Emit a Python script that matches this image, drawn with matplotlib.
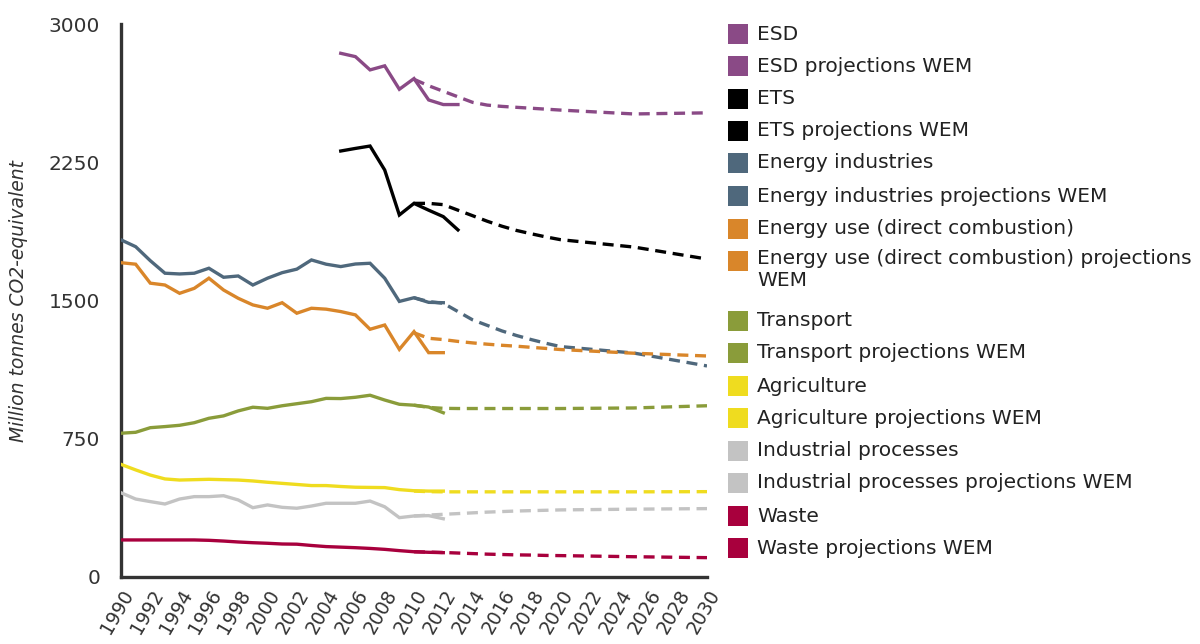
import matplotlib
matplotlib.use("Agg")
import matplotlib.pyplot as plt
from matplotlib.patches import Rectangle

plt.rcParams['font.family'] = ['DejaVu Sans']

years = list(range(1990, 2013))
years_esd = list(range(2005, 2014))
proj_years = list(range(2010, 2021)) + [2025, 2030]

# Historic emissions (Mt CO2-eq)
esd = [2841, 2823, 2751, 2773, 2646, 2704, 2588, 2563, 2563]
ets = [2311, 2325, 2338, 2208, 1964, 2027, 1990, 1955, 1883]
energy_industries = [1829, 1792, 1716, 1648, 1644, 1648, 1675, 1626, 1633, 1584,
                     1621, 1651, 1670, 1720, 1697, 1684, 1698, 1702, 1621, 1495,
                     1515, 1490, 1488]
energy_use = [1705, 1697, 1594, 1584, 1539, 1566, 1621, 1557, 1512, 1476,
              1458, 1488, 1431, 1458, 1453, 1440, 1422, 1344, 1367, 1235,
              1331, 1217, 1217]
transport = [780, 785, 810, 816, 823, 837, 861, 874, 901, 921,
             915, 929, 940, 951, 969, 968, 975, 986, 960, 937,
             932, 922, 891]
agriculture = [611, 581, 553, 532, 526, 528, 530, 528, 526, 521,
               514, 508, 502, 496, 496, 491, 487, 486, 485, 474,
               468, 466, 466]
industrial = [457, 423, 409, 396, 423, 436, 436, 441, 418, 376,
              391, 378, 373, 385, 400, 400, 400, 412, 381, 322,
              331, 333, 316]
waste = [201, 201, 201, 201, 201, 201, 199, 195, 190, 186,
         183, 179, 178, 171, 165, 162, 159, 155, 150, 143,
         137, 134, 132]

# WEM projections
esd_proj = [2700, 2665, 2635, 2605, 2575, 2560, 2553, 2548, 2543, 2538, 2533, 2512, 2518]
ets_proj = [2027, 2027, 2020, 1990, 1960, 1930, 1903, 1880, 1862, 1845, 1830, 1790, 1725]
energy_industries_proj = [1515, 1494, 1485, 1440, 1395, 1365, 1335, 1310, 1288, 1268, 1250, 1215, 1145]
energy_use_proj = [1325, 1295, 1288, 1278, 1270, 1263, 1257, 1252, 1246, 1240, 1234, 1214, 1199]
transport_proj = [932, 920, 915, 914, 914, 914, 914, 914, 914, 914, 914, 917, 929]
agriculture_proj = [466, 463, 462, 462, 462, 462, 462, 462, 462, 462, 462, 462, 463]
industrial_proj = [331, 336, 340, 344, 348, 352, 355, 358, 360, 362, 364, 368, 371]
waste_proj = [137, 135, 133, 130, 127, 124, 122, 120, 119, 117, 116, 110, 105]

colors = {
    'esd': '#8a4a86', 'ets': '#000000', 'ei': '#4f687c', 'eu': '#d9862a',
    'tr': '#8a9c3a', 'ag': '#efdc1f', 'ip': '#c3c3c3', 'wa': '#a8003d',
}

fig = plt.figure(figsize=(12, 6.44), dpi=100)
ax = fig.add_axes([121 / 1200, 67 / 644, 586 / 1200, 553 / 644])

lw = 2.4
dash = (3.3, 2.0)

series = [
    (years_esd, esd, esd_proj, 'esd', 'ESD'),
    (years_esd, ets, ets_proj, 'ets', 'ETS'),
    (years, energy_industries, energy_industries_proj, 'ei', 'Energy industries'),
    (years, energy_use, energy_use_proj, 'eu', 'Energy use (direct combustion)'),
    (years, transport, transport_proj, 'tr', 'Transport'),
    (years, agriculture, agriculture_proj, 'ag', 'Agriculture'),
    (years, industrial, industrial_proj, 'ip', 'Industrial processes'),
    (years, waste, waste_proj, 'wa', 'Waste'),
]

for xs, hist, proj, key, name in series:
    ax.plot(proj_years, proj, color=colors[key], lw=lw, dashes=dash,
            solid_capstyle='butt', zorder=2)
    ax.plot(xs, hist, color=colors[key], lw=lw, solid_joinstyle='miter', zorder=3)

ax.set_xlim(1990, 2030)
ax.set_ylim(0, 3000)
ax.set_yticks([0, 750, 1500, 2250, 3000])
ax.set_xticks(list(range(1990, 2031, 2)))
ax.set_xticklabels([str(y) for y in range(1990, 2031, 2)], rotation=60,
                   ha='right', va='top', rotation_mode='anchor')
ax.tick_params(axis='both', length=0, colors='#333333')
ax.tick_params(axis='y', pad=15, labelsize=14.5)
ax.tick_params(axis='x', pad=7, labelsize=13.5)
for side in ('top', 'right'):
    ax.spines[side].set_visible(False)
for side in ('left', 'bottom'):
    ax.spines[side].set_color('#333333')
    ax.spines[side].set_linewidth(2.4)
ax.set_ylabel('Million tonnes CO2-equivalent', fontsize=13.5, style='italic',
              color='#333333', labelpad=15)

# Legend drawn as coloured squares beside the plot
legend_items = []
for xs, hist, proj, key, name in series:
    legend_items.append((key, name))
    legend_items.append((key, name + ' projections WEM'))

row_y = [34, 66, 99, 131, 163, 196, 229, 261, 321, 353, 386, 418, 451, 483, 516, 548]
for (key, label), py in zip(legend_items, row_y):
    if label.startswith('Energy use') and label.endswith('WEM'):
        label = 'Energy use (direct combustion) projections\nWEM'
    fig.add_artist(Rectangle((728 / 1200, 1 - (py + 10) / 644), 20 / 1200, 20 / 644,
                             transform=fig.transFigure, color=colors[key], lw=0))
    if '\n' in label:
        fig.text(757 / 1200, 1 - (py - 12) / 644, label, fontsize=14.5, color='#222222',
                 va='top', ha='left', linespacing=1.2)
    else:
        fig.text(757 / 1200, 1 - py / 644, label, fontsize=14.5, color='#222222',
                 va='center', ha='left')

fig.savefig('out.png', dpi=100, facecolor='white')
